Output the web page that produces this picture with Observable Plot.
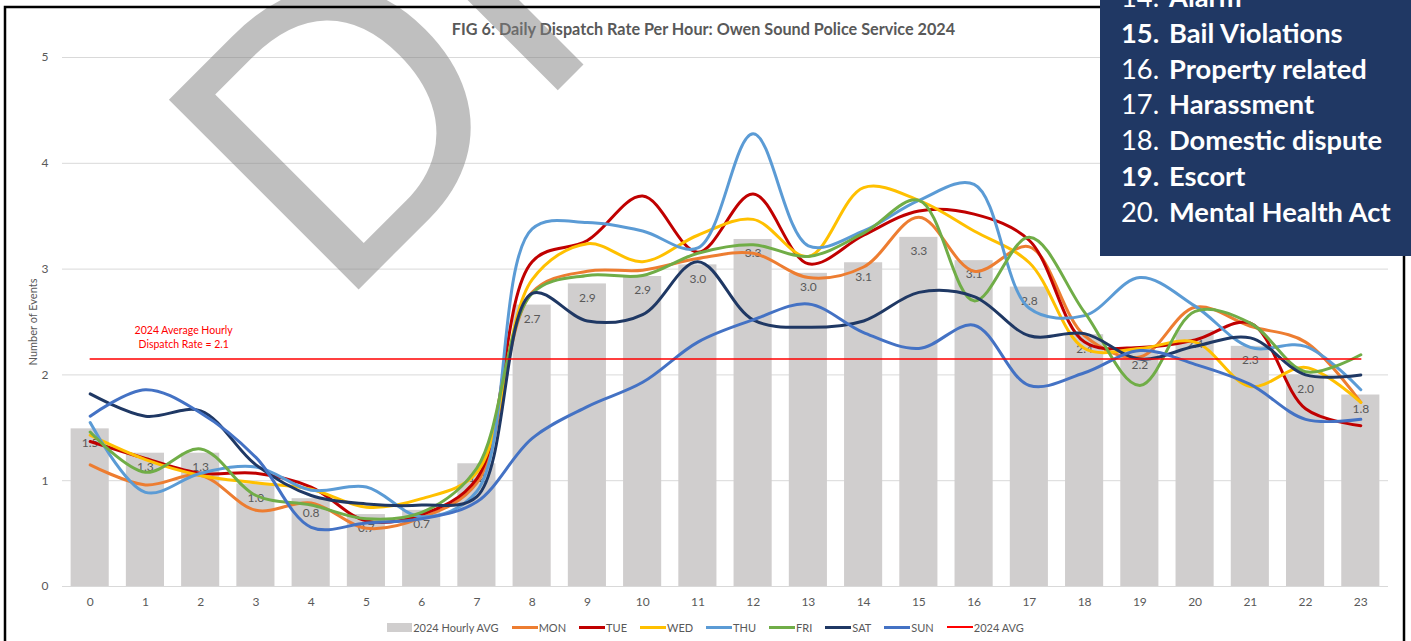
<!DOCTYPE html>
<html><head><meta charset="utf-8">
<script src="https://cdn.jsdelivr.net/npm/d3@7"></script>
<script src="https://cdn.jsdelivr.net/npm/@observablehq/plot@0.6"></script>
<style>
html,body{margin:0;padding:0;background:#fff;}
#wrap{position:relative;width:1411px;height:641px;overflow:hidden;font-family:Lato,"Open Sans",sans-serif;background:#fff;}
#chart{position:absolute;left:0;top:0;}
#overlay{position:absolute;left:0;top:0;}
#legend{position:absolute;left:0;top:619px;width:1411px;height:16px;display:flex;justify-content:center;align-items:center;gap:13px;font-size:11px;color:#595959;}
.li{display:flex;align-items:center;white-space:nowrap;}
.sw{display:inline-block;width:26px;height:3px;margin-right:1px;}
.swb{display:inline-block;width:25px;height:9px;margin-right:1px;}
</style></head>
<body><div id="wrap"><div id="chart"></div><div id="legend"></div><svg id="overlay" width="1411" height="641"></svg></div>
<script>
// ---- data ----
const hours = [0,1,2,3,4,5,6,7,8,9,10,11,12,13,14,15,16,17,18,19,20,21,22,23];
const hourlyAvg = [1.49,1.26,1.26,0.97,0.83,0.68,0.72,1.16,2.66,2.86,2.93,3.04,3.28,2.96,3.06,3.30,3.08,2.83,2.38,2.22,2.42,2.27,2.00,1.81];
const mon = [1.15,0.96,1.05,0.72,0.79,0.55,0.65,0.98,2.78,2.98,2.99,3.10,3.15,2.92,3.02,3.49,2.98,3.21,2.37,2.17,2.64,2.46,2.31,1.74];
const tue = [1.37,1.21,1.07,1.07,0.94,0.62,0.68,1.02,3.07,3.27,3.69,3.16,3.71,3.05,3.32,3.55,3.52,3.27,2.31,2.26,2.33,2.49,1.68,1.52];
const wed = [1.43,1.20,1.05,0.98,0.92,0.75,0.83,1.08,2.90,3.24,3.07,3.32,3.47,3.12,3.77,3.65,3.36,3.06,2.25,2.25,2.31,1.89,2.07,1.74];
const thu = [1.55,0.89,1.07,1.13,0.91,0.94,0.66,0.90,3.38,3.44,3.36,3.20,4.28,3.22,3.36,3.65,3.80,2.63,2.56,2.92,2.65,2.26,2.27,1.86];
const fri = [1.46,1.08,1.30,0.86,0.77,0.64,0.70,1.12,2.77,2.94,2.94,3.15,3.23,3.12,3.34,3.65,2.70,3.30,2.59,1.90,2.60,2.49,2.03,2.19];
const sat = [1.82,1.61,1.66,1.15,0.86,0.78,0.77,0.85,2.77,2.51,2.57,3.07,2.52,2.45,2.51,2.78,2.74,2.37,2.39,2.15,2.27,2.35,2.00,2.00];
const sun = [1.61,1.86,1.64,1.22,0.56,0.60,0.64,0.80,1.40,1.70,1.93,2.31,2.52,2.67,2.40,2.25,2.47,1.90,2.02,2.23,2.10,1.91,1.58,1.58];
const days = ["MON","TUE","WED","THU","FRI","SAT","SUN"];
const dayValues = [mon,tue,wed,thu,fri,sat,sun];
const avgRate = 2.15;
const avgLabel = ["2024 Average Hourly","Dispatch Rate = 2.1"];
const barName = "2024 Hourly AVG";
const avgName = "2024 AVG";
const titleText = "FIG 6: Daily Dispatch Rate Per Hour: Owen Sound Police Service 2024";
const yLabel = "Number of Events";
const watermark = "DRAFT";
const boxNums = ["14.","15.","16.","17.","18.","19.","20."];
const boxLabels = ["Alarm","Bail Violations","Property related","Harassment","Domestic dispute","Escort","Mental Health Act"];
const boxBoldNums = ["15.","19."];

// ---- styles ----
const dayColors = ["#ED7D31","#C00000","#FFC000","#5B9BD5","#70AD47","#1F3864","#4472C4"];
const barColor = "#D0CECE";
const avgColor = "#FF0000";
const textColor = "#595959";

const barRows = hours.map((h,i)=>({hour:h, value:hourlyAvg[i]}));
const avgRows = hours.map(h=>({hour:h, value:avgRate}));
const lineMarks = days.map((d,k)=>Plot.line(hours.map((h,i)=>({hour:h, value:dayValues[k][i]})),
  {x:"hour", y:"value", stroke:dayColors[k], strokeWidth:3, curve:"catmull-rom"}));

const chart = Plot.plot({
  width:1411, height:615,
  marginLeft:62, marginRight:23, marginTop:57, marginBottom:29,
  style:{fontFamily:"Lato, 'Open Sans', sans-serif", fontSize:"12px", color:textColor, background:"transparent", overflow:"visible"},
  x:{type:"band", domain:hours, paddingInner:0.31, paddingOuter:0.156, align:0.5, round:false, label:null, tickSize:0, tickPadding:11},
  y:{domain:[0,5], ticks:5, label:null, tickSize:0, tickPadding:14},
  marks:[
    Plot.ruleY([0,1,2,3,4,5], {stroke:"#D9D9D9", strokeWidth:1}),
    Plot.barY(barRows, {x:"hour", y:"value", fill:barColor}),
    Plot.text(barRows, {x:"hour", y:"value", text:d=>d.value.toFixed(1), dy:14, fill:textColor, fontSize:12}),
    ...lineMarks,
    Plot.line(avgRows, {x:"hour", y:"value", stroke:avgColor, strokeWidth:1.5}),
    Plot.text([{hour:2, value:avgRate, label:avgLabel.join("\n")}], {x:"hour", y:"value", text:"label", dx:-17, dy:-11, lineAnchor:"bottom", lineHeight:1.3, fill:avgColor, fontSize:10.5}),
    Plot.text([yLabel], {frameAnchor:"left", textAnchor:"middle", dx:-29, rotate:-90, fill:textColor, fontSize:11})
  ]
});
document.getElementById("chart").appendChild(chart);

// ---- legend ----
const legend = d3.select("#legend");
const li0 = legend.append("div").attr("class","li");
li0.append("span").attr("class","swb").style("background",barColor);
li0.append("span").text(barName);
days.forEach((d,k)=>{
  const li = legend.append("div").attr("class","li");
  li.append("span").attr("class","sw").style("background",dayColors[k]);
  li.append("span").text(d);
});
const liA = legend.append("div").attr("class","li");
liA.append("span").attr("class","sw").style("background",avgColor).style("height","1.5px");
liA.append("span").text(avgName);

// ---- overlay: title, watermark, frame, info box ----
const ov = d3.select("#overlay");
ov.append("text").attr("x",703.5).attr("y",35).attr("text-anchor","middle")
  .attr("font-family","Lato, 'Open Sans', sans-serif").attr("font-weight",700).attr("font-size",16.2)
  .attr("fill",textColor).text(titleText);
ov.append("text").attr("transform","translate(336,312) rotate(-45)")
  .attr("font-family","'Liberation Sans', Arial, sans-serif").attr("font-size",390)
  .attr("fill","#808080").attr("fill-opacity",0.5).text(watermark);
ov.append("rect").attr("x",5).attr("y",7).attr("width",1399).attr("height",660)
  .attr("fill","none").attr("stroke","#000").attr("stroke-width",2.5);
ov.append("rect").attr("x",1100).attr("y",-10).attr("width",320).attr("height",266).attr("fill","#203864");
boxNums.forEach((n,i)=>{
  const y = 7 + i*35.8;
  ov.append("text").attr("x",1121).attr("y",y).attr("font-family","Lato, 'Open Sans', sans-serif")
    .attr("font-size",27.3).attr("font-weight",boxBoldNums.includes(n)?700:400).attr("fill","#fff").text(n);
  ov.append("text").attr("x",1169).attr("y",y).attr("font-family","Lato, 'Open Sans', sans-serif")
    .attr("font-size",27.3).attr("font-weight",700).attr("fill","#fff").text(boxLabels[i]);
});
</script></body></html>
